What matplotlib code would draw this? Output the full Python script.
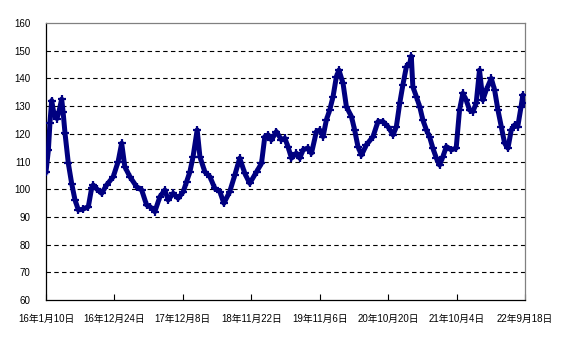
import numpy as np
import pandas as pd
import matplotlib
matplotlib.use('Agg')
import matplotlib.pyplot as plt
import matplotlib.dates as mdates

plt.rcParams['font.family'] = ['Liberation Sans', 'Noto Sans CJK SC', 'DejaVu Sans']

# -----------------------------
# data
# -----------------------------
dates = [
    '2016-01-10', '2016-01-22', '2016-01-30', '2016-02-08', '2016-02-20', '2016-03-06',
    '2016-03-16', '2016-03-30', '2016-04-06', '2016-04-16', '2016-05-03', '2016-05-20',
    '2016-06-06', '2016-06-23', '2016-07-17', '2016-08-13', '2016-08-30', '2016-09-07',
    '2016-09-26', '2016-10-20', '2016-11-14', '2016-12-18', '2017-01-12', '2017-01-30',
    '2017-02-15', '2017-03-13', '2017-04-16', '2017-05-12', '2017-06-06', '2017-06-23',
    '2017-07-18', '2017-08-13', '2017-09-07', '2017-09-24', '2017-10-20', '2017-11-14',
    '2017-12-10', '2017-12-27', '2018-01-13', '2018-01-29', '2018-02-19', '2018-03-05',
    '2018-03-30', '2018-04-25', '2018-05-20', '2018-06-15', '2018-07-05', '2018-08-04',
    '2018-08-30', '2018-09-24', '2018-10-20', '2018-11-14', '2018-12-19', '2019-01-13',
    '2019-01-30', '2019-02-16', '2019-03-05', '2019-03-30', '2019-04-25', '2019-05-12',
    '2019-05-28', '2019-06-15', '2019-07-10', '2019-07-27', '2019-08-13', '2019-09-07',
    '2019-09-25', '2019-10-20', '2019-11-06', '2019-11-23', '2019-12-10', '2019-12-27',
    '2020-01-13', '2020-01-30', '2020-02-12', '2020-03-04', '2020-03-21', '2020-04-16',
    '2020-05-02', '2020-05-19', '2020-06-06', '2020-07-01', '2020-08-04', '2020-08-29',
    '2020-09-24', '2020-10-19', '2020-11-14', '2020-12-01', '2020-12-18', '2021-01-03',
    '2021-01-21', '2021-02-07', '2021-02-15', '2021-02-23', '2021-03-13', '2021-03-30',
    '2021-04-15', '2021-05-03', '2021-05-19', '2021-06-05', '2021-06-23', '2021-07-09',
    '2021-07-26', '2021-08-13', '2021-09-07', '2021-10-02', '2021-10-19', '2021-11-05',
    '2021-11-22', '2021-12-09', '2021-12-26', '2022-01-12', '2022-01-29', '2022-02-15',
    '2022-03-04', '2022-03-30', '2022-04-16', '2022-05-03', '2022-05-20', '2022-06-06',
    '2022-06-23', '2022-07-10', '2022-07-27', '2022-08-12', '2022-08-29', '2022-09-07',
    '2022-09-15',
]
values = [
    106.3, 114.0, 123.8, 132.0, 127.0, 125.5,
    128.0, 132.5, 128.0, 120.2, 109.3, 102.0,
    96.1, 92.5, 92.8, 93.7, 100.5, 101.5,
    100.0, 98.5, 101.5, 104.5, 110.0, 116.6,
    108.1, 104.5, 100.9, 99.7, 94.3, 93.7,
    91.9, 97.3, 99.7, 96.1, 98.5, 96.7,
    99.1, 102.7, 106.3, 111.7, 121.4, 111.7,
    106.3, 104.5, 100.3, 99.1, 94.9, 99.1,
    105.1, 111.2, 105.7, 102.1, 106.3, 109.3,
    119.0, 119.6, 117.8, 120.8, 117.8, 118.4,
    115.4, 111.2, 113.0, 111.2, 114.2, 114.9,
    113.0, 120.8, 121.4, 119.0, 125.0, 128.6,
    133.4, 140.6, 143.0, 138.2, 129.8, 126.2,
    121.4, 115.4, 112.3, 116.0, 119.0, 124.4,
    124.4, 122.6, 119.6, 122.6, 131.0, 137.6,
    144.2, 145.4, 148.0, 137.0, 133.4, 129.8,
    125.0, 121.4, 119.0, 114.8, 111.2, 108.7,
    111.7, 115.4, 114.2, 114.8, 128.6, 134.6,
    132.2, 128.6, 128.0, 131.0, 143.0, 132.2,
    135.8, 140.0, 135.8, 128.6, 122.6, 116.6,
    114.8, 121.4, 123.2, 122.6, 129.8, 134.0,
    131.0,
]
tick_dates = ['2016-01-10', '2016-12-24', '2017-12-08', '2018-11-22',
              '2019-11-06', '2020-10-20', '2021-10-04', '2022-09-18']
tick_labels = ['16年1月10日', '16年12月24日', '17年12月8日', '18年11月22日',
               '19年11月6日', '20年10月20日', '21年10月4日', '22年9月18日']
y_ticks = list(range(60, 161, 10))

# -----------------------------
# plot
# -----------------------------
fig = plt.figure(figsize=(5.64, 3.43), dpi=100)
ax = fig.add_axes([46/564, 1 - 300/343, (525 - 46)/564, (300 - 23)/343])

x = pd.to_datetime(dates)
ax.plot(x, values, color='#000080', lw=3.6, solid_joinstyle='round',
        marker='+', markersize=6, markeredgewidth=1.6, zorder=3)

for yv in y_ticks[1:-1]:
    ax.axhline(yv, color='black', lw=0.8, ls=(0, (4, 3)), zorder=1)

ax.set_ylim(60, 160)
ax.set_yticks(y_ticks)
ax.set_yticklabels([str(v) for v in y_ticks], fontsize=7)
ax.tick_params(axis='y', length=0, pad=11)

ax.set_xlim(pd.Timestamp(tick_dates[0]), pd.Timestamp(tick_dates[-1]))
ax.set_xticks(pd.to_datetime(tick_dates))
ax.set_xticklabels(tick_labels, fontsize=7)
ax.tick_params(axis='x', direction='in', length=4, pad=10, width=0.8)

ax.spines['left'].set_color('black')
ax.spines['bottom'].set_color('black')
ax.spines['top'].set_color('#808080')
ax.spines['right'].set_color('#808080')
for s in ax.spines.values():
    s.set_linewidth(0.9)

fig.savefig('out.png', dpi=100)
